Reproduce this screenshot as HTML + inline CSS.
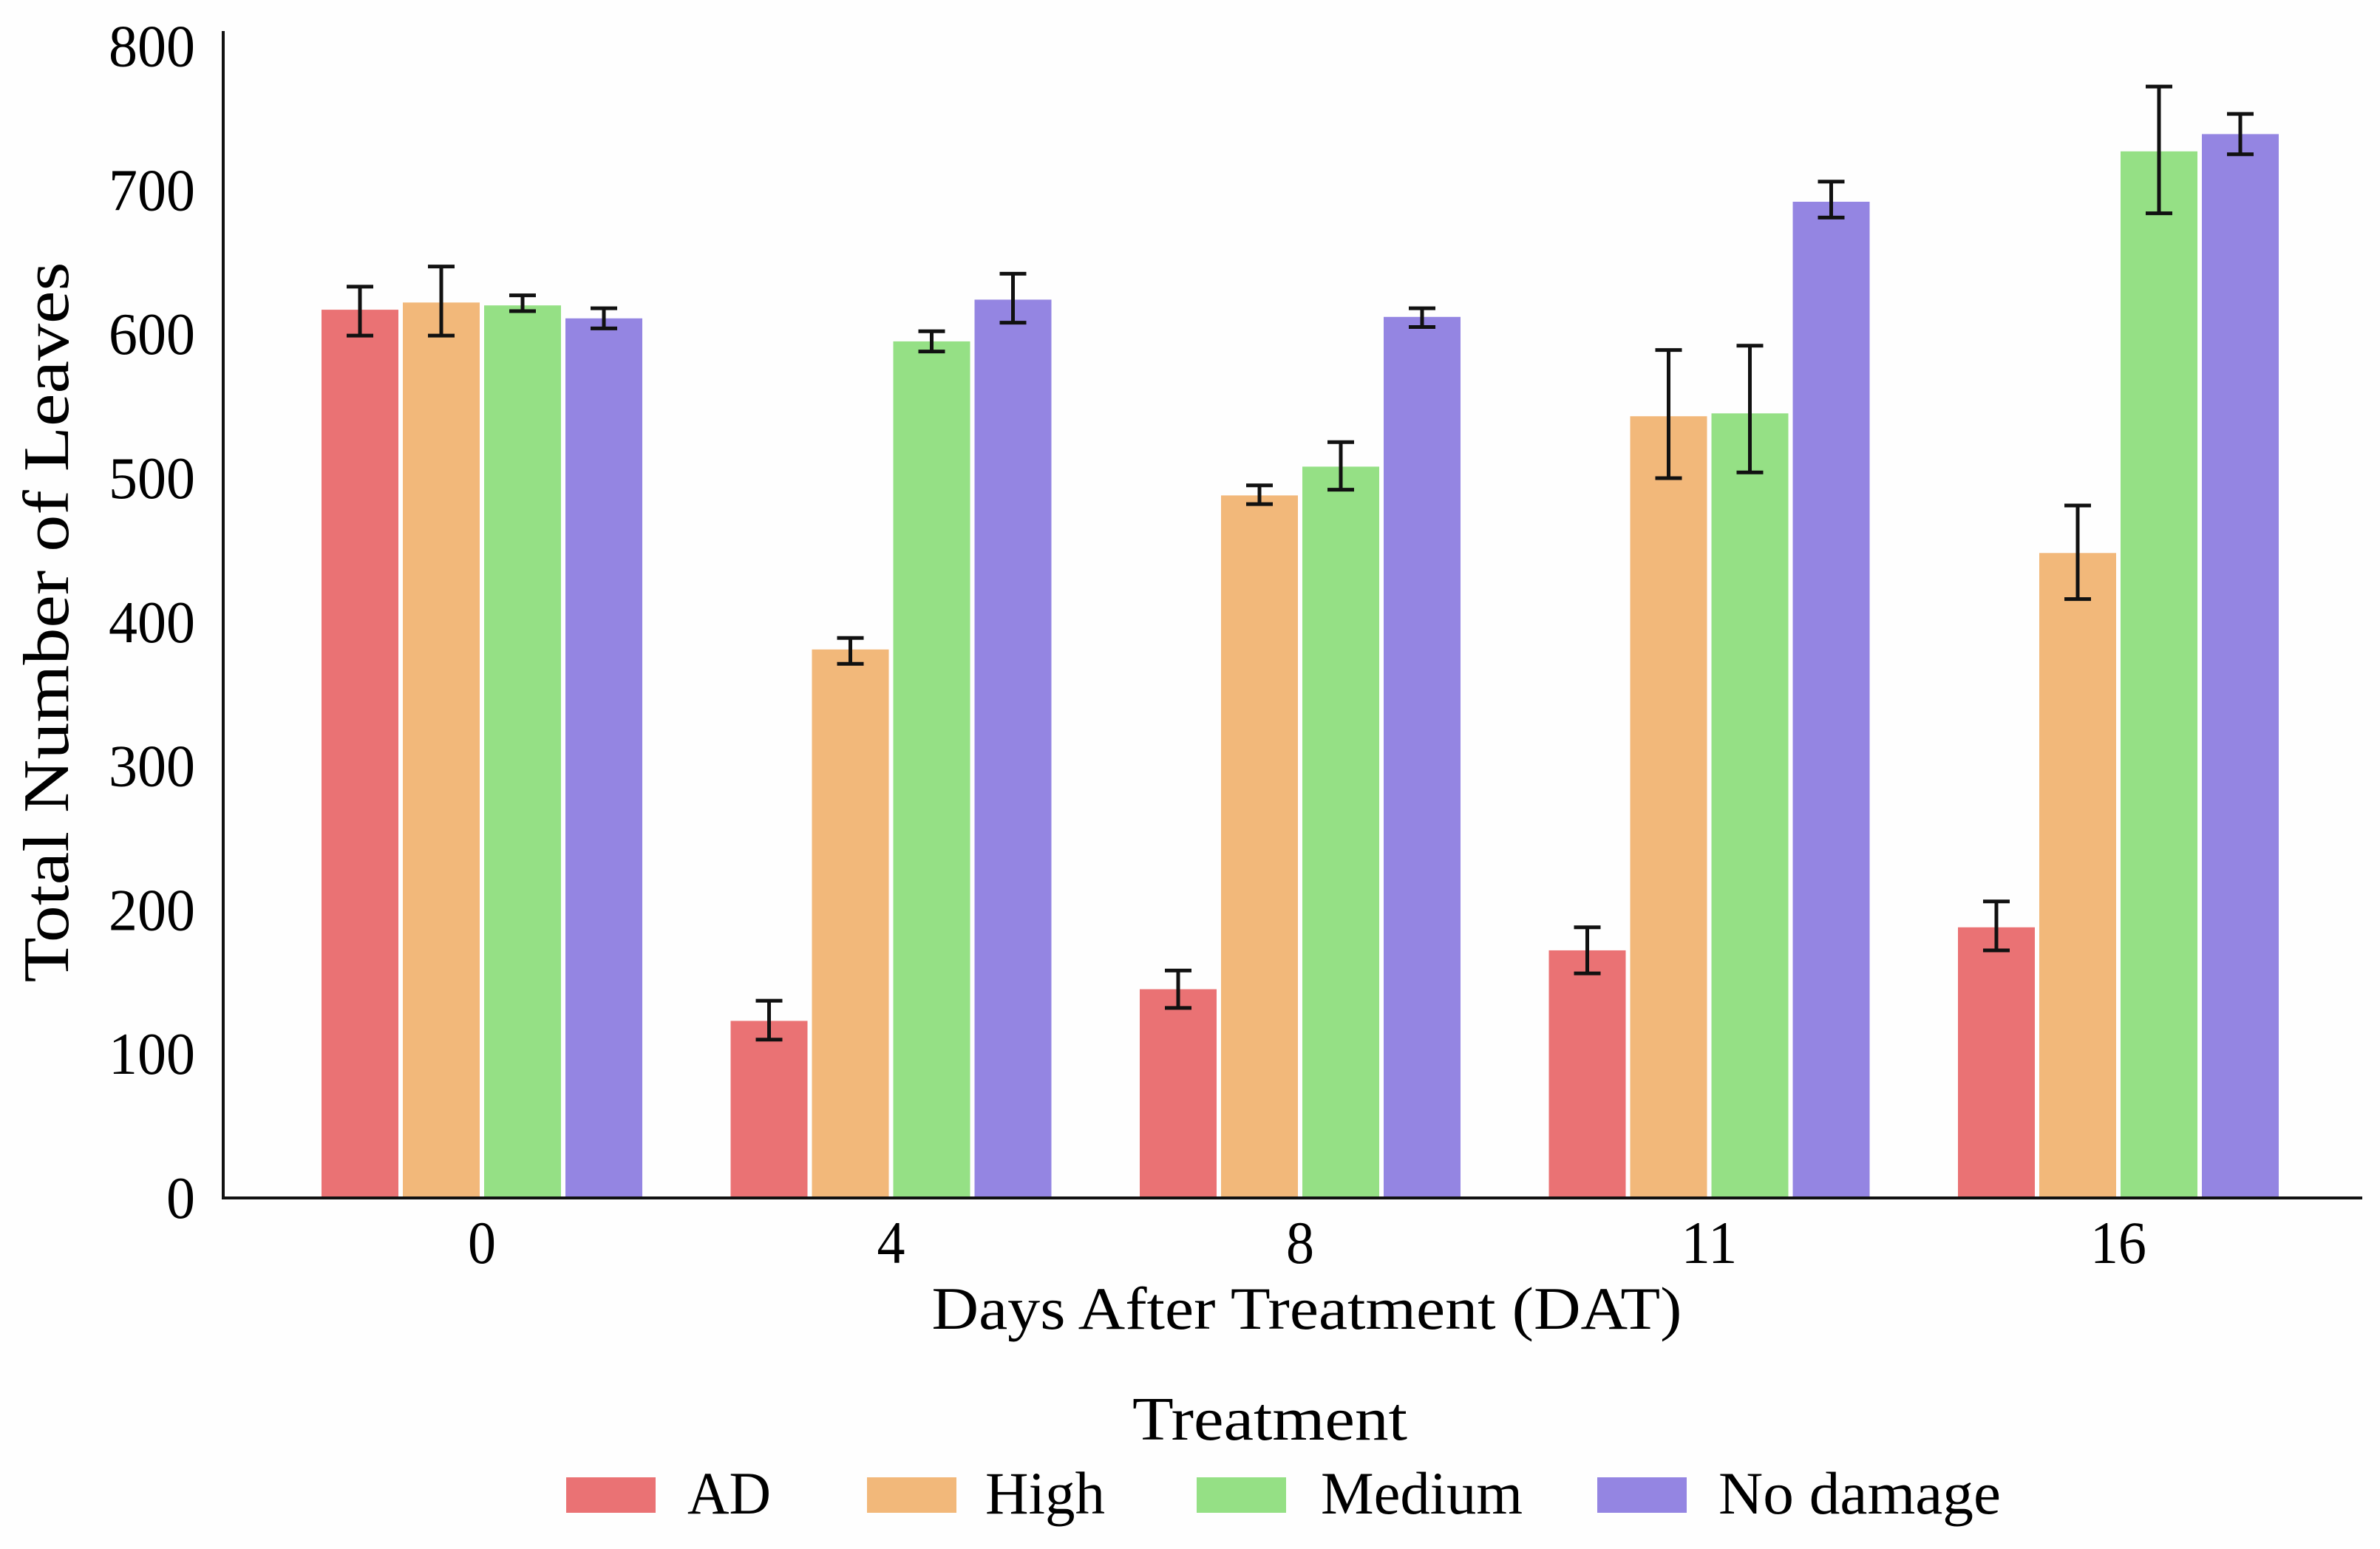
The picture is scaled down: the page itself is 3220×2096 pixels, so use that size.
<!DOCTYPE html>
<html><head><meta charset="utf-8"><style>
html,body{margin:0;padding:0;background:#fefefe;}
svg{display:block;font-family:"Liberation Serif",serif;}
</style></head><body>
<svg id="chart" width="3220" height="2096" viewBox="0 0 3220 2096" xmlns="http://www.w3.org/2000/svg">
<g id="bars"></g>
<g id="axes"></g>
<text transform="translate(92,842) rotate(-90)" text-anchor="middle" font-size="88" textLength="975" lengthAdjust="spacingAndGlyphs">Total Number of Leaves</text>
<text x="1768" y="1798" text-anchor="middle" font-size="82" textLength="1015" lengthAdjust="spacingAndGlyphs">Days After Treatment (DAT)</text>
<g>
<text x="1718" y="1948" text-anchor="middle" font-size="84" textLength="372" lengthAdjust="spacingAndGlyphs">Treatment</text>
</g>
<g id="legend-items"></g>
</svg>
<script>
const categories = ["0","4","8","11","16"];
const seriesNames = ["AD","High","Medium","No damage"];
const adVals = [617,123,145,172,188];
const adLo = [599,110,132,156,172];
const adHi = [633,137,158,188,206];
const highVals = [622,381,488,543,448];
const highLo = [599,371,482,500,416];
const highHi = [647,389,495,589,481];
const mediumVals = [620,595,508,545,727];
const mediumLo = [616,588,492,504,684];
const mediumHi = [627,602,525,592,772];
const noDamageVals = [611,624,612,692,739];
const noDamageLo = [604,608,605,681,725];
const noDamageHi = [618,642,618,706,753];
const yTicks = [0,100,200,300,400,500,600,700,800];

const colors = ["#EA7274","#F2B87A","#95E085","#9485E2"];
const NS = "http://www.w3.org/2000/svg";
const y0 = 1621, pxPer = 1.948;
const yScale = v => y0 - v * pxPer;
const xCenter = i => 652 + i * 553.5;
const barPitch = 110, barW = 104;
const vals = [adVals, highVals, mediumVals, noDamageVals];
const los = [adLo, highLo, mediumLo, noDamageLo];
const his = [adHi, highHi, mediumHi, noDamageHi];

function mk(tag, attrs, parent){ const e=document.createElementNS(NS,tag); for(const k in attrs) e.setAttribute(k,attrs[k]); parent.appendChild(e); return e; }

const barsG = document.getElementById('bars');
const axesG = document.getElementById('axes');
categories.forEach((c, i) => {
  for (let s = 0; s < 4; s++) {
    const cx = xCenter(i) + (s - 1.5) * barPitch;
    const top = yScale(vals[s][i]);
    const r = mk('rect', {x: cx - barW/2, y: top, width: barW, height: y0 - top, fill: colors[s]}, barsG);
    
    
    const yl = yScale(los[s][i]), yh = yScale(his[s][i]);
    const eb = mk('path', {d: `M${cx},${yl}V${yh}M${cx-18},${yl}H${cx+18}M${cx-18},${yh}H${cx+18}`, stroke:'#111', 'stroke-width':5, fill:'none'}, barsG);
    
    
  }
  const t = mk('text', {x: xCenter(i), y: 1709, 'text-anchor':'middle', 'font-size':82, textLength: c.length*38, lengthAdjust:'spacingAndGlyphs'}, axesG);
  t.textContent = c;
  
  
});
yTicks.forEach(v => {
  const s = String(v);
  const t = mk('text', {x: 264, y: yScale(v) + 27, 'text-anchor':'end', 'font-size':80, textLength: s.length*39, lengthAdjust:'spacingAndGlyphs'}, axesG);
  t.textContent = s;
  
  
});
const ya = mk('line', {x1:302, y1:42, x2:302, y2:y0+2, stroke:'#111', 'stroke-width':4}, axesG);


const xa = mk('line', {x1:300, y1:y0, x2:3196, y2:y0, stroke:'#111', 'stroke-width':4}, axesG);



const legG = document.getElementById('legend-items');
const swX = [766,1173,1619,2161];
const txX = [930,1333,1787,2325];
const txW = [113,162,273,382];
seriesNames.forEach((n, s) => {
  const r = mk('rect', {x: swX[s], y: 1999, width: 121, height: 48, fill: colors[s]}, legG);
  
  
  const t = mk('text', {x: txX[s], y: 2048, 'font-size':82, textLength: txW[s], lengthAdjust:'spacingAndGlyphs'}, legG);
  t.textContent = n;
  
  
});
</script>
</body></html>
